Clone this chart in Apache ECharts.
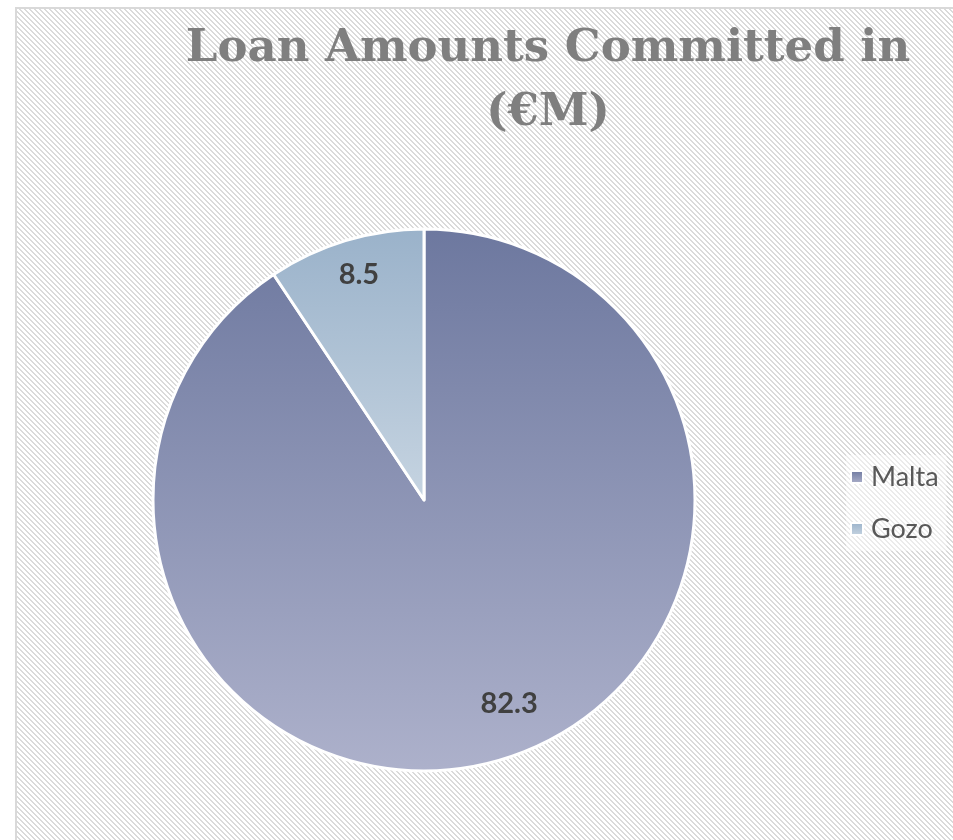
<!DOCTYPE html>
<html>
<head>
<meta charset="utf-8">
<script src="https://cdn.jsdelivr.net/npm/echarts@6/dist/echarts.min.js"></script>
<style>
  html, body { margin: 0; padding: 0; background: #ffffff; }
  #chart { width: 953px; height: 840px; }
</style>
</head>
<body>
<div id="chart"></div>
<script>
// Loan amounts committed, by island (€M)
const categories = ['Malta', 'Gozo'];
const amounts = [82.3, 8.5];
const titleText = 'Loan Amounts Committed in\n(€M)';

// Vertical gradient per slice: [top colour, bottom colour]
const sliceGradients = [
  ['#6d789f', '#adb1cb'],
  ['#9ab2ca', '#c6d4e1']
];

// Diagonal hatch used for the chart area background
function makeHatch() {
  const size = 5;
  const c = document.createElement('canvas');
  c.width = size; c.height = size;
  const ctx = c.getContext('2d');
  ctx.fillStyle = '#ffffff';
  ctx.fillRect(0, 0, size, size);
  ctx.fillStyle = '#dadada';
  for (let y = 0; y < size; y++) {
    for (let x = 0; x < size; x++) {
      const d = ((x - y) % size + size) % size;
      if (d < 2) ctx.fillRect(x, y, 1, 1);
    }
  }
  return c;
}

function gradient(pair) {
  return new echarts.graphic.LinearGradient(0, 0, 0, 1, [
    { offset: 0, color: pair[0] },
    { offset: 1, color: pair[1] }
  ]);
}

const pieData = categories.map((name, i) => ({
  name: name,
  value: amounts[i],
  itemStyle: { color: gradient(sliceGradients[i]) }
}));

// label nudges (px) so the large slice's value sits nearer its lower right edge
const labelOffsets = [[18, -18], [2, -4]];

const chart = echarts.init(document.getElementById('chart'), null, { renderer: 'canvas' });

const R = 271;
const centre = [424, 500];

chart.setOption({
  backgroundColor: '#ffffff',
  animation: false,
  graphic: [{
    type: 'rect',
    z: -10,
    silent: true,
    shape: { x: 16, y: 8, width: 960, height: 850 },
    style: {
      fill: { image: makeHatch(), repeat: 'repeat' },
      stroke: '#d9d9d9',
      lineWidth: 2
    }
  }],
  title: {
    text: titleText,
    left: 543,
    top: 12,
    textAlign: 'center',
    textStyle: {
      fontFamily: 'DejaVu Serif',
      fontWeight: 'bold',
      fontSize: 45,
      lineHeight: 64,
      color: '#7f7f7f'
    }
  },
  legend: {
    orient: 'vertical',
    left: 846,
    top: 455,
    itemWidth: 12,
    itemHeight: 12,
    itemGap: 20,
    icon: 'rect',
    padding: [6, 8, 6, 4],
    backgroundColor: 'rgba(255,255,255,0.45)',
    textStyle: {
      fontFamily: 'Lato',
      fontSize: 27,
      lineHeight: 32,
      color: '#595959',
      padding: [0, 0, 0, 3]
    },
    data: categories
  },
  series: [
    {
      type: 'pie',
      center: centre,
      radius: [0, R],
      startAngle: 90,
      clockwise: true,
      silent: true,
      itemStyle: { borderColor: '#ffffff', borderWidth: 3 },
      label: { show: false },
      labelLine: { show: false },
      data: pieData
    },
    {
      // transparent ring that carries the value labels near the outer edge
      type: 'pie',
      center: centre,
      radius: [186, R],
      startAngle: 90,
      clockwise: true,
      silent: true,
      legendHoverLink: false,
      itemStyle: { color: 'rgba(0,0,0,0)', borderWidth: 0 },
      label: {
        show: true,
        position: 'inside',
        formatter: p => p.value.toFixed(1),
        fontFamily: 'Lato',
        fontWeight: 'bold',
        fontSize: 29,
        color: '#404040'
      },
      labelLine: { show: false },
      data: categories.map((name, i) => ({
        name: name,
        value: amounts[i],
        label: { offset: labelOffsets[i] }
      }))
    }
  ]
});
</script>
</body>
</html>
